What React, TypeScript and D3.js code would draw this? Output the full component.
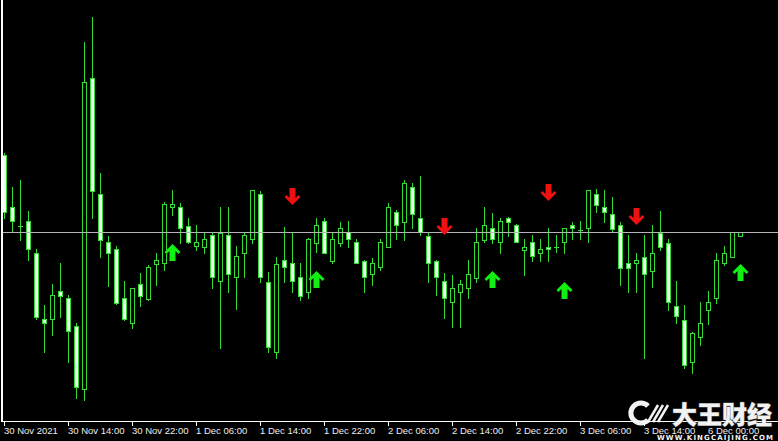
import React from 'react';
import * as d3 from 'd3';

// hourly bars, 30 Nov 06:00 onwards (EURUSD-like prices)
const opens = [
  1.13454, 1.13350, 1.13312, 1.13322, 1.13258, 1.13126, 1.13126, 1.13182, 1.13168, 1.13112,
  1.12986, 1.13608, 1.13376, 1.13280, 1.13266, 1.13168, 1.13118, 1.13196, 1.13166, 1.13236,
  1.13238, 1.13350, 1.13350, 1.13312, 1.13272, 1.13270, 1.13294, 1.13202, 1.13294, 1.13210,
  1.13258, 1.13286, 1.13376, 1.13200, 1.13060, 1.13244, 1.13238, 1.13210, 1.13180, 1.13278,
  1.13322, 1.13242, 1.13278, 1.13300, 1.13280, 1.13242, 1.13216, 1.13230, 1.13270, 1.13340,
  1.13320, 1.13390, 1.13328, 1.13292, 1.13242, 1.13202, 1.13160, 1.13180, 1.13188, 1.13208,
  1.13284, 1.13308, 1.13280, 1.13328, 1.13314, 1.13264, 1.13280, 1.13258, 1.13270, 1.13270,
  1.13280, 1.13314, 1.13304, 1.13308, 1.13376, 1.13350, 1.13336, 1.13314, 1.13238, 1.13238,
  1.13250, 1.13222, 1.13298, 1.13278, 1.13152, 1.13124, 1.13040, 1.13090, 1.13144, 1.13168,
  1.13238, 1.13250, 1.13292,
];
const highs = [
  1.13458, 1.13390, 1.13404, 1.13342, 1.13266, 1.13154, 1.13196, 1.13238, 1.13174, 1.13118,
  1.13680, 1.13730, 1.13418, 1.13292, 1.13272, 1.13202, 1.13188, 1.13218, 1.13234, 1.13258,
  1.13360, 1.13384, 1.13358, 1.13328, 1.13314, 1.13298, 1.13298, 1.13350, 1.13350, 1.13272,
  1.13300, 1.13384, 1.13382, 1.13220, 1.13250, 1.13310, 1.13300, 1.13238, 1.13288, 1.13328,
  1.13328, 1.13298, 1.13320, 1.13322, 1.13286, 1.13244, 1.13248, 1.13286, 1.13358, 1.13344,
  1.13404, 1.13398, 1.13412, 1.13298, 1.13244, 1.13218, 1.13214, 1.13204, 1.13244, 1.13308,
  1.13350, 1.13338, 1.13328, 1.13330, 1.13316, 1.13286, 1.13294, 1.13286, 1.13308, 1.13294,
  1.13308, 1.13320, 1.13322, 1.13384, 1.13386, 1.13384, 1.13370, 1.13320, 1.13294, 1.13258,
  1.13294, 1.13314, 1.13342, 1.13286, 1.13202, 1.13154, 1.13100, 1.13160, 1.13182, 1.13258,
  1.13272, 1.13300, 1.13300,
];
const lows = [
  1.13328, 1.13300, 1.13284, 1.13244, 1.13126, 1.13060, 1.13094, 1.13130, 1.13040, 1.12968,
  1.12964, 1.13328, 1.13250, 1.13192, 1.13156, 1.13124, 1.13108, 1.13152, 1.13164, 1.13194,
  1.13224, 1.13334, 1.13278, 1.13278, 1.13264, 1.13258, 1.13188, 1.13068, 1.13180, 1.13146,
  1.13210, 1.13278, 1.13200, 1.13060, 1.13048, 1.13200, 1.13180, 1.13164, 1.13168, 1.13260,
  1.13258, 1.13238, 1.13272, 1.13270, 1.13238, 1.13180, 1.13194, 1.13224, 1.13270, 1.13286,
  1.13284, 1.13308, 1.13294, 1.13200, 1.13174, 1.13128, 1.13110, 1.13110, 1.13168, 1.13200,
  1.13280, 1.13278, 1.13258, 1.13292, 1.13280, 1.13214, 1.13242, 1.13242, 1.13242, 1.13260,
  1.13258, 1.13286, 1.13286, 1.13280, 1.13340, 1.13320, 1.13300, 1.13194, 1.13180, 1.13180,
  1.13048, 1.13190, 1.13264, 1.13144, 1.13118, 1.13028, 1.13018, 1.13074, 1.13116, 1.13158,
  1.13234, 1.13250, 1.13292,
];
const closes = [
  1.13340, 1.13322, 1.13312, 1.13266, 1.13130, 1.13118, 1.13174, 1.13172, 1.13102, 1.12990,
  1.13600, 1.13382, 1.13284, 1.13258, 1.13158, 1.13126, 1.13188, 1.13172, 1.13230, 1.13244,
  1.13356, 1.13356, 1.13308, 1.13280, 1.13280, 1.13286, 1.13210, 1.13298, 1.13216, 1.13252,
  1.13294, 1.13384, 1.13210, 1.13070, 1.13236, 1.13230, 1.13202, 1.13172, 1.13286, 1.13314,
  1.13258, 1.13286, 1.13308, 1.13286, 1.13238, 1.13210, 1.13238, 1.13280, 1.13350, 1.13314,
  1.13398, 1.13336, 1.13300, 1.13238, 1.13210, 1.13168, 1.13188, 1.13196, 1.13216, 1.13280,
  1.13314, 1.13286, 1.13322, 1.13320, 1.13280, 1.13270, 1.13252, 1.13266, 1.13266, 1.13270,
  1.13308, 1.13308, 1.13304, 1.13384, 1.13354, 1.13340, 1.13306, 1.13228, 1.13228, 1.13244,
  1.13216, 1.13258, 1.13270, 1.13160, 1.13132, 1.13034, 1.13098, 1.13118, 1.13160, 1.13244,
  1.13258, 1.13300, 1.13300,
];

// signal arrows: bar index and price of the arrow tip
const buyBars = [21, 39, 61, 70, 92];
const buyPrices = [1.13276, 1.13222, 1.13222, 1.13200, 1.13236];
const sellBars = [36, 55, 68, 79];
const sellPrices = [1.13354, 1.13294, 1.13362, 1.13314];

const timeLabels = [
  '30 Nov 2021', '30 Nov 14:00', '30 Nov 22:00', '1 Dec 06:00', '1 Dec 14:00', '1 Dec 22:00',
  '2 Dec 06:00', '2 Dec 14:00', '2 Dec 22:00', '3 Dec 06:00', '3 Dec 14:00', '6 Dec 00:00',
];
const labelEvery = 8;
const bidPrice = 1.133;

const W = 778;
const H = 441;
const plotBottom = 421;
const wickColor = '#33dd33';
const bearFill = '#ecffec';

const App = () => {
  const x = d3.scaleLinear().domain([0, opens.length - 1]).range([4, 4 + 8 * (opens.length - 1)]);
  const y = d3.scaleLinear().domain([1.12922, 1.13764]).range([plotBottom, 0]);
  const py = (v: number) => Math.round(y(v));

  const arrowUp = 'M0,0 L8,8 L6,10 L3,7 L3,17 L-3,17 L-3,7 L-6,10 L-8,8 Z';
  const arrowDown = 'M0,0 L8,-8 L6,-10 L3,-7 L3,-17 L-3,-17 L-3,-7 L-6,-10 L-8,-8 Z';

  return (
    <div style={{ position: 'fixed', left: 0, top: 0, width: W, height: H, background: '#000' }}>
      <svg width={W} height={H} style={{ display: 'block' }} shapeRendering="crispEdges">
        <rect width={W} height={H} fill="#000" />

        {opens.map((o, i) => {
          const cx = Math.round(x(i));
          const c = closes[i];
          const top = Math.min(py(o), py(c));
          const bot = Math.max(py(o), py(c));
          return (
            <g key={i}>
              <line x1={cx + 0.5} x2={cx + 0.5} y1={py(highs[i])} y2={py(lows[i]) + 1} stroke={wickColor} />
              {top === bot ? (
                <line x1={cx - 2} x2={cx + 3} y1={top + 0.5} y2={top + 0.5} stroke={wickColor} />
              ) : (
                <rect x={cx - 1.5} y={top + 0.5} width={4} height={bot - top}
                  fill={c < o ? bearFill : '#000'} stroke={wickColor} />
              )}
            </g>
          );
        })}

        <line x1={3} x2={W} y1={py(bidPrice) + 0.5} y2={py(bidPrice) + 0.5} stroke="#b4b4b4" />

        <g shapeRendering="auto">
          {buyBars.map((b, i) => (
            <path key={'b' + i} d={arrowUp} fill="#12f012"
              transform={`translate(${Math.round(x(b)) + 0.5},${py(buyPrices[i])})`} />
          ))}
          {sellBars.map((b, i) => (
            <path key={'s' + i} d={arrowDown} fill="#ee1111"
              transform={`translate(${Math.round(x(b)) + 0.5},${py(sellPrices[i])})`} />
          ))}
        </g>

        {/* frame and time axis */}
        <line x1={2} x2={2} y1={0} y2={plotBottom + 1} stroke="#fff" strokeWidth={2} />
        <line x1={2} x2={W} y1={plotBottom + 0.5} y2={plotBottom + 0.5} stroke="#fff" />
        {timeLabels.map((t, k) => {
          const tx = Math.round(x(k * labelEvery));
          return (
            <g key={t}>
              <line x1={tx + 0.5} x2={tx + 0.5} y1={plotBottom} y2={plotBottom + 5} stroke="#fff" />
              <text x={tx} y={434} fill="#eee" fontSize={9.5} fontFamily="Liberation Sans, Arial, sans-serif">{t}</text>
            </g>
          );
        })}

        {/* watermark */}
        <g shapeRendering="auto" opacity={0.95}>
          <path d="M648,406 A10,10 0 1 0 648,420" fill="none" stroke="#fff" strokeWidth={5} />
          <path d="M648,422 L658,405 M653,422 L663,405 M658,422 L668,405" stroke="#fff" strokeWidth={2.5} />
          <text x={672} y={424} fill="#fff" stroke="#666" strokeWidth={1} paintOrder="stroke"
            fontSize={25} fontWeight={900} fontFamily="Noto Sans CJK SC, sans-serif">大王财经</text>
          <text x={657} y={440} fill="#fff" fontSize={7} fontWeight={700} textLength={116}
            fontFamily="DejaVu Sans, sans-serif">WWW.KINGCAIJING.COM</text>
        </g>
      </svg>
    </div>
  );
};

export default App;
